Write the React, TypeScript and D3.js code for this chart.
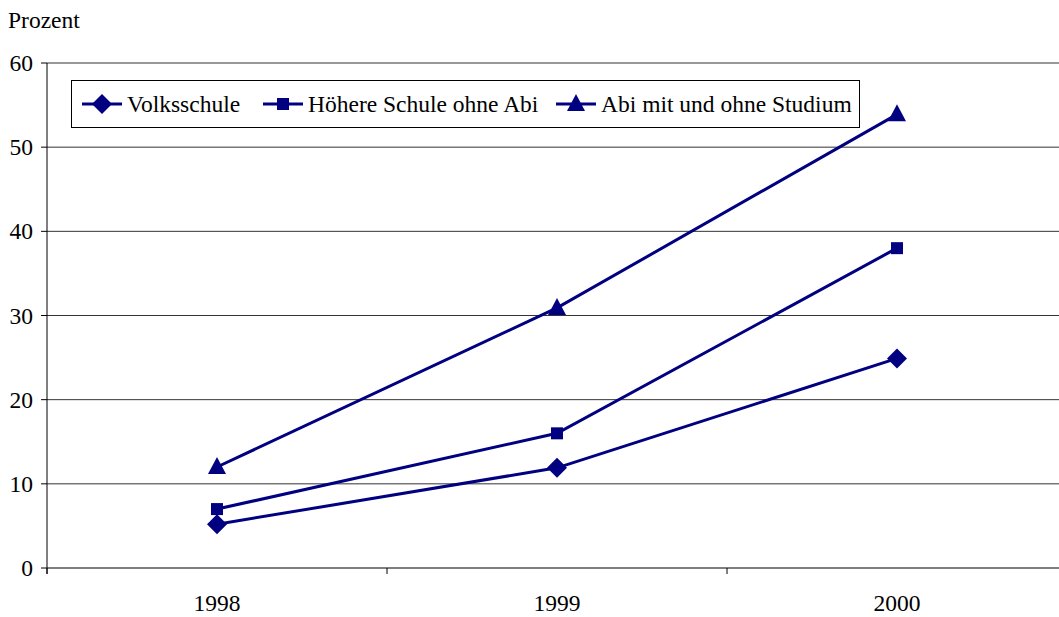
import React from "react";
import * as d3 from "d3";

const years = ["1998", "1999", "2000"];
const volksschule = [5.2, 11.9, 24.9];
const hoehereSchule = [7, 16, 38];
const abiStudium = [12, 30.9, 53.9];
const yTicks = [0, 10, 20, 30, 40, 50, 60];
const seriesNames = ["Volksschule", "Höhere Schule ohne Abi", "Abi mit und ohne Studium"];

const W = 1059, H = 617;
const left = 47, top = 63, bottom = 568, rightEdge = 1067;
const color = "#000080";
const fs = 23.5;
const ts = { fontFamily: "Liberation Serif", fontSize: fs, fill: "#000" };

function Marker({ kind, x, y }: { kind: number; x: number; y: number }) {
  if (kind === 0) {
    const r = 10;
    return <path d={`M${x},${y - r}L${x + r},${y}L${x},${y + r}L${x - r},${y}Z`} fill={color} />;
  }
  if (kind === 1) {
    return <rect x={x - 6} y={y - 6} width={12} height={12} fill={color} />;
  }
  return <path d={`M${x},${y - 10}L${x + 9},${y + 7}L${x - 9},${y + 7}Z`} fill={color} />;
}

export default function App() {
  const x = d3.scaleBand().domain(years).range([left, rightEdge]);
  const y = d3.scaleLinear().domain([0, 60]).range([bottom, top]);
  const series = [volksschule, hoehereSchule, abiStudium];
  const line = d3
    .line<number>()
    .x((_, i) => (x(years[i]) as number) + x.bandwidth() / 2)
    .y((d) => y(d));
  const legendItems = [
    { lx: 82, tx: 127 },
    { lx: 263, tx: 308 },
    { lx: 556, tx: 601 },
  ];
  const xTickPos = [...years.map((yr) => x(yr) as number), rightEdge];
  return (
    <svg width={W} height={H} style={{ position: "absolute", left: 0, top: 0 }}>
      <rect width={W} height={H} fill="white" />
      <text x={8} y={28} style={ts}>Prozent</text>
      {yTicks.map((t) => (
        <g key={t}>
          {t > 0 && <line x1={left} x2={W} y1={y(t)} y2={y(t)} stroke="#333" strokeWidth={1} />}
          <line x1={41} x2={left} y1={y(t)} y2={y(t)} stroke="#000" strokeWidth={1} />
          <text x={33} y={y(t) + 8} textAnchor="end" style={ts}>{t}</text>
        </g>
      ))}
      <line x1={left} x2={left} y1={top} y2={bottom + 6} stroke="#000" strokeWidth={1} />
      <line x1={left} x2={W} y1={bottom} y2={bottom} stroke="#000" strokeWidth={1.2} />
      {xTickPos.map((p, i) => (
        <line key={i} x1={p} x2={p} y1={bottom} y2={bottom + 6} stroke="#000" strokeWidth={1} />
      ))}
      {years.map((yr) => (
        <text key={yr} x={(x(yr) as number) + x.bandwidth() / 2} y={611} textAnchor="middle" style={ts}>
          {yr}
        </text>
      ))}
      {series.map((s, k) => (
        <g key={k}>
          <path d={line(s) || ""} fill="none" stroke={color} strokeWidth={3} />
          {s.map((v, i) => (
            <Marker key={i} kind={k} x={(x(years[i]) as number) + x.bandwidth() / 2} y={y(v)} />
          ))}
        </g>
      ))}
      <rect x={71.5} y={80.5} width={788} height={47} fill="white" stroke="#000" strokeWidth={1} />
      {seriesNames.map((n, k) => (
        <g key={n}>
          <line x1={legendItems[k].lx} x2={legendItems[k].lx + 40} y1={104} y2={104} stroke={color} strokeWidth={3} />
          <Marker kind={k} x={legendItems[k].lx + 20} y={104} />
          <text x={legendItems[k].tx} y={112} style={ts}>{n}</text>
        </g>
      ))}
    </svg>
  );
}
